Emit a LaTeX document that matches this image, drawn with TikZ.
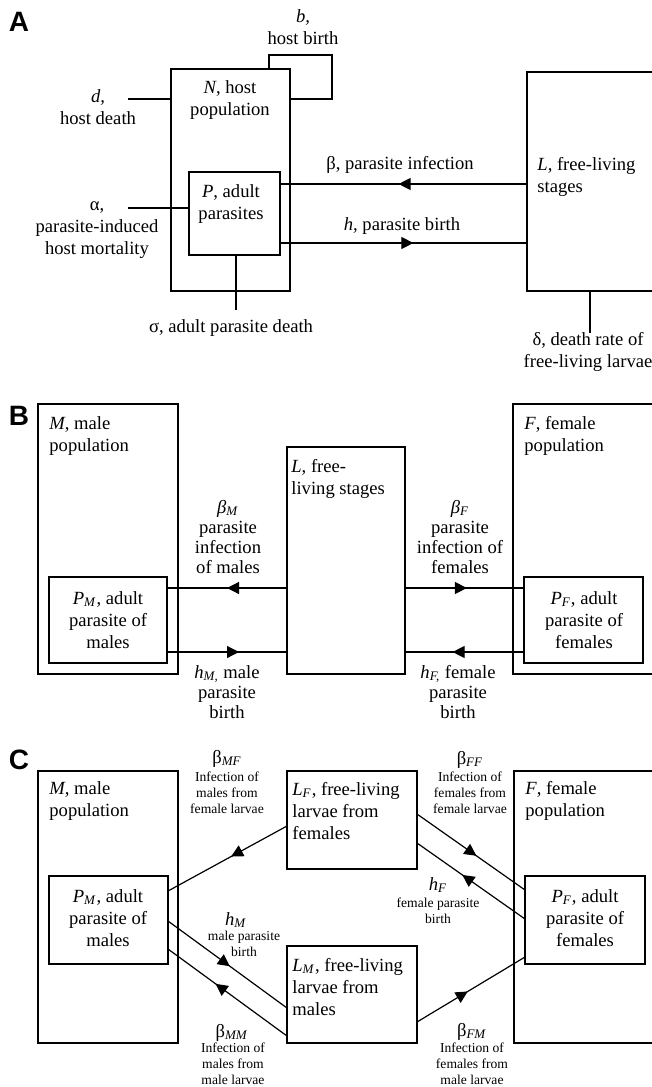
\documentclass[tikz,border=0pt]{standalone}
\usepackage{fontspec}
\setmainfont{Liberation Serif}
\newfontfamily\labfont{Liberation Sans}
\usetikzlibrary{arrows.meta,decorations.markings}
\newcommand\bxnode[6][]{\node[boxst,anchor=north west,minimum width={(#5-#3)*0.5pt},minimum height={(#6-#4)*0.5pt},#1] (#2) at (#3,#4) {};}
\newcommand\sbs[1]{\textsubscript{\textit{#1}}}
\tikzset{
 boxst/.style={draw, line width=0.6pt, inner sep=0pt, outer sep=0pt},
 txt/.style={inner sep=0pt, font=\fontsize{9.3}{11}\selectfont, align=center},
 txtl/.style={inner sep=0pt, font=\fontsize{9.3}{11}\selectfont, align=left, anchor=west},
 txtm/.style={inner sep=0pt, font=\fontsize{9.3}{10}\selectfont, align=center},
 sm/.style={inner sep=0pt, font=\fontsize{6.8}{8}\selectfont, align=center},
 lab/.style={inner sep=0pt, font=\labfont\bfseries\fontsize{14}{14}\selectfont},
 conn/.style={line width=0.6pt},
 midarr/.style={postaction={decorate}, decoration={markings, mark=at position #1 with {\arrow{Triangle[length=6pt,width=6pt]}}}},
}
\begin{document}
\begin{tikzpicture}[x=0.5pt,y=-0.5pt]
\useasboundingbox (0,0) rectangle (652,1087);
% ---------------- Panel A ----------------
\node[lab] (labA) at (19,22) {A};
\bxnode{N}{171}{69}{290}{291}
\bxnode{P}{189}{172}{280}{255}
\bxnode{L}{527}{72}{680}{291}
\node[txt] (tN) at (230,100) {\textit{N}, host\\population};
\node[txt] (tP) at (231,204) {\textit{P}, adult\\parasites};
\node[txtl] (tL) at (537,177) {\textit{L}, free-living\\stages};
\node[txt] (tb) at (303,27) {\textit{b,}\\host birth};
\node[txt] (td) at (98,107) {\textit{d,}\\host death};
\node[txt] (ta) at (97,230) {α,\\parasite-induced\\host mortality};
\node[txt] (ts) at (231,328) {σ, adult parasite death};
\node[txt] (tbeta) at (400,165) {β, parasite infection};
\node[txt] (th) at (402,226) {\textit{h,} parasite birth};
\node[txt] (tdelta) at (588,352) {δ, death rate of\\free-living larvae};
\coordinate (bl1) at (269,55);
\coordinate (bl2) at (332,55);
\coordinate (bl3) at (332,99);
\draw[conn] (N.north -| bl1) -- (bl1) -- (bl2) -- (bl3) -- (N.east |- bl3);
\coordinate (dend) at (128,99);
\draw[conn] (N.west |- dend) -- (dend);
\coordinate (aend) at (128,208);
\draw[conn] (P.west |- aend) -- (aend);
\coordinate (send) at (236,310);
\draw[conn] (P.south -| send) -- (send);
\coordinate (dlend) at (590,333);
\draw[conn] (L.south -| dlend) -- (dlend);
\draw[conn,midarr=0.52] (L.west |- 0,184) -- (P.east |- 0,184);
\draw[conn,midarr=0.54] (P.east |- 0,243) -- (L.west |- 0,243);
% ---------------- Panel B ----------------
\node[lab] (labB) at (19,416) {B};
\bxnode{MB}{38}{404}{178}{674}
\bxnode{PMB}{49}{577}{167}{663}
\bxnode{LB}{287}{447}{405}{674}
\bxnode{FB}{513}{404}{680}{674}
\bxnode{PFB}{524}{577}{643}{663}
\node[txtl] (tMB) at (49,436) {\textit{M}, male\\population};
\node[txt] (tPMB) at (108,620) {\textit{P}\sbs{M}, adult\\parasite of\\males};
\node[txtl] (tLB) at (291,479) {\textit{L}, free-\\living stages};
\node[txtl] (tFB) at (524,436) {\textit{F}, female\\population};
\node[txt] (tPFB) at (584,620) {\textit{P}\sbs{F}, adult\\parasite of\\females};
\node[txtm] (tbM) at (228,537) {\textit{β}\sbs{M}\\parasite\\infection\\of males};
\node[txtm] (tbF) at (460,537) {\textit{β}\sbs{F}\\parasite\\infection of\\females};
\node[txtm] (thM) at (227,692) {\textit{h}\sbs{M,} male\\parasite\\birth};
\node[txtm] (thF) at (458,692) {\textit{h}\sbs{F,} female\\parasite\\birth};
\draw[conn,midarr=0.5] (LB.west |- 0,588) -- (PMB.east |- 0,588);
\draw[conn,midarr=0.6] (PMB.east |- 0,652) -- (LB.west |- 0,652);
\draw[conn,midarr=0.52] (LB.east |- 0,588) -- (PFB.west |- 0,588);
\draw[conn,midarr=0.6] (PFB.west |- 0,652) -- (LB.east |- 0,652);
% ---------------- Panel C ----------------
\node[lab] (labC) at (19,760) {C};
\bxnode{MC}{38}{771}{178}{1043}
\bxnode{PMC}{49}{876}{168}{964}
\bxnode{LFC}{287}{771}{417}{869}
\bxnode{LMC}{287}{946}{417}{1043}
\bxnode{FC}{514}{771}{680}{1043}
\bxnode{PFC}{525}{876}{645}{964}
\node[txtl] (tMC) at (49,801) {\textit{M}, male\\population};
\node[txt] (tPMC) at (108,918) {\textit{P}\sbs{M}, adult\\parasite of\\males};
\node[txtl] (tLFC) at (292,811) {\textit{L}\sbs{F}, free-living\\larvae from\\females};
\node[txtl] (tLMC) at (292,987) {\textit{L}\sbs{M}, free-living\\larvae from\\males};
\node[txtl] (tFC) at (525,801) {\textit{F}, female\\population};
\node[txt] (tPFC) at (585,918) {\textit{P}\sbs{F}, adult\\parasite of\\females};
\node[txt] (sbMF) at (227,759) {β\sbs{MF}};
\node[sm] (dbMF) at (227,793) {Infection of\\males from\\female larvae};
\node[txt] (shM) at (236,920) {\textit{h}\sbs{M}};
\node[sm] (dhM) at (244,944) {male parasite\\birth};
\node[txt] (sbMM) at (232,1033) {β\sbs{MM}};
\node[sm] (dbMM) at (233,1064) {Infection of\\males from\\male larvae};
\node[txt] (sbFF) at (470,760) {β\sbs{FF}};
\node[sm] (dbFF) at (470,793) {Infection of\\females from\\female larvae};
\node[txt] (shF) at (438,885) {\textit{h}\sbs{F}};
\node[sm] (dhF) at (438,911) {female parasite\\birth};
\node[txt] (sbFM) at (472,1032) {β\sbs{FM}};
\node[sm] (dbFM) at (472,1064) {Infection of\\females from\\male larvae};
\draw[conn,midarr=0.47] (LFC.west |- 0,826) -- (PMC.east |- 0,891);
\draw[conn,midarr=0.52] (PMC.east |- 0,921) -- (LMC.west |- 0,1008);
\draw[conn,midarr=0.6] (LMC.west |- 0,1036) -- (PMC.east |- 0,949);
\draw[conn,midarr=0.55] (LFC.east |- 0,814) -- (PFC.west |- 0,890);
\draw[conn,midarr=0.58] (PFC.west |- 0,919) -- (LFC.east |- 0,843);
\draw[conn,midarr=0.47] (LMC.east |- 0,1022) -- (PFC.west |- 0,957);
\end{tikzpicture}
\end{document}
